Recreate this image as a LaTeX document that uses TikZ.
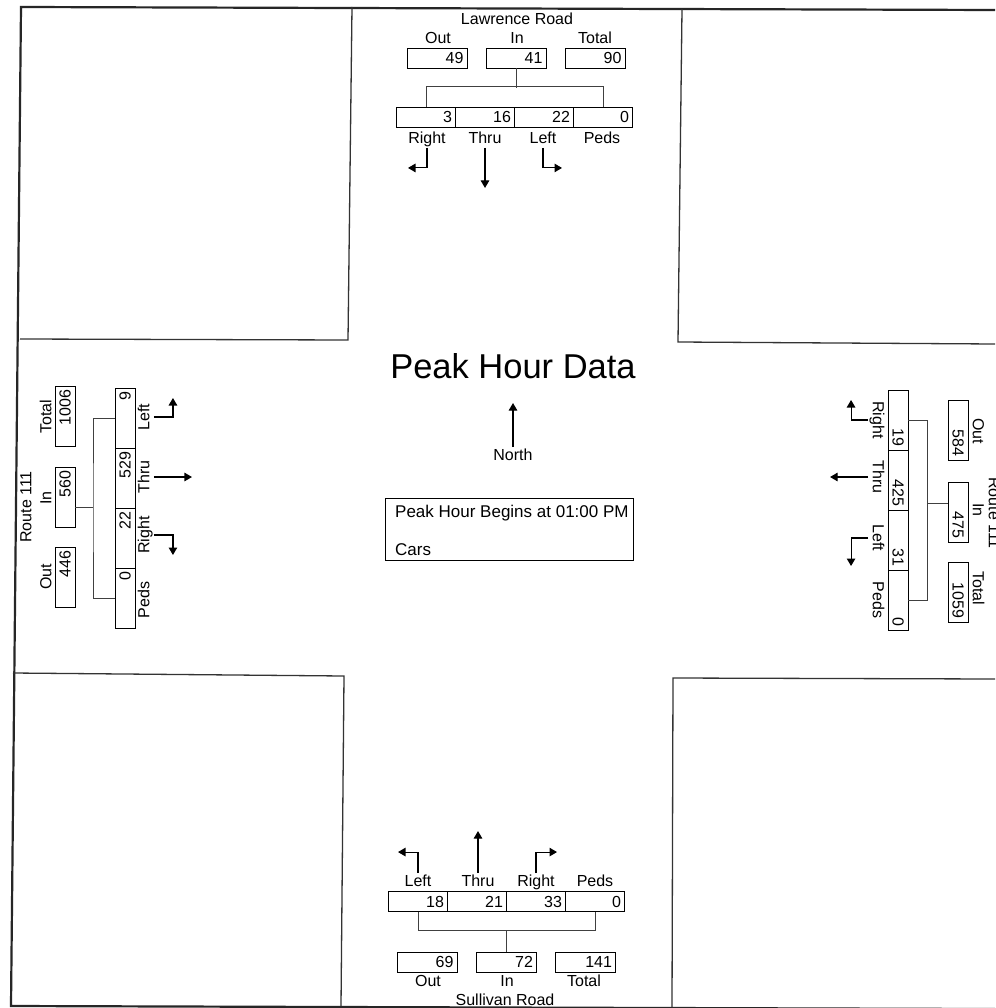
\documentclass[tikz,border=0pt]{standalone}
\usepackage{fontspec}
\setmainfont{Liberation Sans}
\usetikzlibrary{arrows.meta}
\newcommand\lblfont{\fontsize{16}{18}\selectfont}
\begin{document}
\begin{tikzpicture}[x=1pt,y=-1pt,
  frame/.style={line width=2.2pt, black!85},
  block/.style={line width=1.3pt, black!80},
  lbl/.style={font=\lblfont, inner sep=1pt, text height=12pt, text depth=3.5pt},
  cnt/.style={draw, line width=0.9pt, font=\lblfont, text width=53pt, align=right,
              inner xsep=3.5pt, inner ysep=0pt, minimum height=20pt},
  cell/.style={cnt, text width=52pt},
  wcell/.style={cnt, text width=53pt},
  link/.style={line width=0.9pt, black!75},
  mv/.style={line width=1.1pt, -{Triangle[width=8.5pt,length=7.5pt]}},
]
\useasboundingbox (0,0) rectangle (995,1008);
\fill[white] (0,0) rectangle (995,1008);

% outer frame and the four corner blocks
\draw[frame] (995,10) -- (21,7) -- (11,1006) -- (995,1009);
\draw[block] (352,7) -- (348,340) -- (20,339);
\draw[block] (682,9) -- (678,342) -- (995,344);
\draw[block] (13,673) -- (344,676) -- (341,1006);
\draw[block] (995,679) -- (673,678) -- (672,1007);

% ---------- north approach: Lawrence Road ----------
\node[lbl] (lawrence) at (517,20) {Lawrence Road};
\node[lbl] (nOutL) at (438,39) {Out};
\node[lbl] (nInL)  at (517,39) {In};
\node[lbl] (nTotL) at (595,39) {Total};
\node[cnt] (nOut) at (437,58) {49};
\node[cnt] (nIn)  at (516,58) {41};
\node[cnt] (nTot) at (595,58) {90};
\node[cell] (nR) at (426,117) {3};
\node[cell] (nT) at (485,117) {16};
\node[cell] (nL) at (544,117) {22};
\node[cell] (nP) at (603,117) {0};
\draw[link] (nIn.south) -- ++(0,20);
\draw[link] (nR.north) -- ++(0,-20) -| (nP.north);
\node[lbl] (nRl) at (427,139) {Right};
\node[lbl] (nTl) at (485,139) {Thru};
\node[lbl] (nLl) at (543,139) {Left};
\node[lbl] (nPl) at (602,139) {Peds};
\draw[mv] (nRl.south) |- ++(-19,20);
\draw[mv] (nTl.south) -- ++(0,40);
\draw[mv] (nLl.south) |- ++(19,20);

% ---------- west approach: Route 111 ----------
\node[lbl, rotate=90] (route111w) at (27,507) {Route 111};
\node[lbl, rotate=90] (wTotL) at (47,417) {Total};
\node[lbl, rotate=90] (wInL)  at (47,498) {In};
\node[lbl, rotate=90] (wOutL) at (47,577) {Out};
\node[cnt, rotate=90] (wTot) at (65,416) {1006};
\node[cnt, rotate=90] (wIn)  at (65,497) {560};
\node[cnt, rotate=90] (wOut) at (65,577) {446};
\node[wcell, rotate=90] (wL) at (125,418) {9};
\node[wcell, rotate=90] (wT) at (125,478) {529};
\node[wcell, rotate=90] (wR) at (125,538) {22};
\node[wcell, rotate=90] (wP) at (125,598) {0};
\coordinate (wJ) at (93,507);
\draw[link] (wL.north) -| (wJ) |- (wP.north);
\draw[link] (wIn.south |- wJ) -- (wJ);
\node[lbl, rotate=90] (wLl) at (145,417) {Left};
\node[lbl, rotate=90] (wTl) at (145,477) {Thru};
\node[lbl, rotate=90] (wRl) at (145,535) {Right};
\node[lbl, rotate=90] (wPl) at (145,600) {Peds};
\draw[mv] (wLl.south) -| ++(19,-19);
\draw[mv] (wTl.south) -- ++(38,0);
\draw[mv] (wRl.south) -| ++(19,20);

% ---------- east approach: Route 111 ----------
\node[lbl, rotate=-90] (route111e) at (993,513) {Route 111};
\node[lbl, rotate=-90] (eOutL) at (977,431) {Out};
\node[lbl, rotate=-90] (eInL)  at (977,510) {In};
\node[lbl, rotate=-90] (eTotL) at (977,588) {Total};
\node[cnt, rotate=-90] (eOut) at (958,430) {584};
\node[cnt, rotate=-90] (eIn)  at (958,512) {475};
\node[cnt, rotate=-90] (eTot) at (958,592) {1059};
\node[wcell, rotate=-90] (eR) at (898,420) {19};
\node[wcell, rotate=-90] (eT) at (898,480) {425};
\node[wcell, rotate=-90] (eL) at (898,540) {31};
\node[wcell, rotate=-90] (eP) at (898,600) {0};
\coordinate (eJ) at (927,503);
\draw[link] (eR.north) -| (eJ) |- (eP.north);
\draw[link] (eJ) -- (eJ -| eIn.south);
\node[lbl, rotate=-90] (eRl) at (877,420) {Right};
\node[lbl, rotate=-90] (eTl) at (877,477) {Thru};
\node[lbl, rotate=-90] (eLl) at (877,538) {Left};
\node[lbl, rotate=-90] (ePl) at (877,600) {Peds};
\draw[mv] (eRl.south) -| ++(-17,-20);
\draw[mv] (eTl.south) -- ++(-38,0);
\draw[mv] (eLl.south) -| ++(-17,28);

% ---------- south approach: Sullivan Road ----------
\node[lbl] (sLl) at (418,882) {Left};
\node[lbl] (sTl) at (478,882) {Thru};
\node[lbl] (sRl) at (536,882) {Right};
\node[lbl] (sPl) at (595,882) {Peds};
\draw[mv] (sLl.north) |- ++(-20,-21);
\draw[mv] (sTl.north) -- ++(0,-42);
\draw[mv] (sRl.north) |- ++(21,-21);
\node[cell] (sL) at (418,901.5) {18};
\node[cell] (sT) at (477,901.5) {21};
\node[cell] (sR) at (536,901.5) {33};
\node[cell] (sP) at (595,901.5) {0};
\draw[link] (sL.south) -- ++(0,18) -| (sP.south);
\node[cnt] (sOut) at (427,962) {69};
\node[cnt] (sIn)  at (506.5,962) {72};
\node[cnt] (sTot) at (585.5,962) {141};
\draw[link] (sIn.north) -- ++(0,-22);
\node[lbl] (sOutL) at (428,982) {Out};
\node[lbl] (sInL)  at (507,982) {In};
\node[lbl] (sTotL) at (584,982) {Total};
\node[lbl] (sullivan) at (505,1001) {Sullivan Road};

% ---------- centre: title, north arrow, period box ----------
\node[font=\fontsize{34.5}{38}\selectfont] (title) at (513,366) {Peak Hour Data};
\node[lbl] (northl) at (513,456) {North};
\draw[mv] (northl.north) -- ++(0,-44);
\node[draw, line width=0.9pt, minimum width=248pt, minimum height=62pt] (info) at (509,529) {};
\node[font=\fontsize{17}{20}\selectfont, anchor=base west, inner sep=0pt] (begins) at (395,517) {Peak Hour Begins at 01:00 PM};
\node[font=\fontsize{17}{20}\selectfont, anchor=base west, inner sep=0pt] (cars) at (395,555) {Cars};
\end{tikzpicture}
\end{document}
